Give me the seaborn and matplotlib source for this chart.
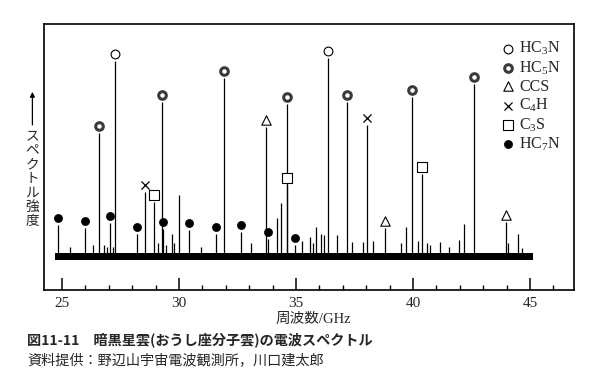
import numpy as np
import pandas as pd
import seaborn as sns
import matplotlib.pyplot as plt
from matplotlib.ticker import MultipleLocator

# --- data (frequency in GHz, relative intensity) ---
hc3n_freq = [27.28, 36.35]
hc3n_int = [196, 199]
hc5n_freq = [26.57, 29.29, 31.91, 34.60, 37.19, 39.94, 42.60]
hc5n_int = [124, 155, 179, 153, 155, 160, 173]
ccs_freq = [33.72, 38.79, 43.97]
ccs_int = [130, 29, 35]
c4h_freq = [28.55, 38.05]
c4h_int = [65, 132]
c3s_freq = [28.92, 34.63, 40.40]
c3s_int = [55, 72, 83]
hc7n_freq = [24.84, 25.97, 27.04, 28.20, 29.32, 30.41, 31.57, 32.65, 33.80, 34.97]
hc7n_int = [32, 29, 34, 23, 28, 27, 23, 25, 18, 12]

# unidentified lines
other_freq = [25.34, 26.34, 26.79, 26.91, 27.17, 29.09, 29.44, 29.69, 29.79, 29.99,
              30.94, 33.08, 34.20, 34.37, 35.26, 35.59, 35.71, 35.87, 36.07, 36.20,
              36.75, 37.38, 37.88, 38.30, 39.49, 39.70, 40.20, 40.59, 40.73, 41.15,
              41.54, 41.98, 42.17, 44.07, 44.47, 44.64]
other_int = [10, 12, 12, 10, 10, 14, 12, 23, 14, 62,
             10, 14, 39, 54, 16, 20, 14, 30, 23, 22,
             22, 15, 15, 16, 14, 30, 16, 14, 12, 15,
             10, 17, 33, 14, 23, 9]

band_start, band_end = 24.72, 45.13

molecules = ["HC$_3$N", "HC$_5$N", "CCS", "C$_4$H", "C$_3$S", "HC$_7$N"]
freqs = [hc3n_freq, hc5n_freq, ccs_freq, c4h_freq, c3s_freq, hc7n_freq]
ints = [hc3n_int, hc5n_int, ccs_int, c4h_int, c3s_int, hc7n_int]

styles = {
    "HC$_3$N": dict(marker="o", s=40, color="white", edgecolor="black", linewidth=0.8),
    "HC$_5$N": dict(marker="o", s=30, color="white", edgecolor="#3a3a3a", linewidth=2.2),
    "CCS": dict(marker="^", s=46, color="white", edgecolor="black", linewidth=0.8),
    "C$_4$H": dict(marker="x", s=34, color="black", linewidth=0.9),
    "C$_3$S": dict(marker="s", s=50, color="white", edgecolor="black", linewidth=0.8),
    "HC$_7$N": dict(marker="o", s=34, color="black", edgecolor="black", linewidth=0.5),
}

sns.set_theme(style="white")
plt.rcParams["font.family"] = ["Liberation Serif", "Noto Sans CJK JP"]
plt.rcParams["mathtext.fontset"] = "custom"
plt.rcParams["mathtext.rm"] = "Liberation Serif"
plt.rcParams["mathtext.it"] = "Liberation Serif"

fig = plt.figure(figsize=(6, 3.75), dpi=100)
ax = fig.add_axes([0.0733, 0.2267, 0.8834, 0.7093])

# noise band of the spectrum
ax.fill_between([band_start, band_end], -3.5, 3.5, color="black", linewidth=0)

# stick lines
all_f = sum(freqs, []) + other_freq
all_i = sum(ints, []) + other_int
ax.vlines(all_f, 0, all_i, color="black", linewidth=0.9)

# markers above identified lines
gap = 7
for name, f, h in zip(molecules, freqs, ints):
    df = pd.DataFrame({"freq": f, "y": np.array(h) + gap})
    sns.scatterplot(data=df, x="freq", y="y", ax=ax, label=name, zorder=3, **styles[name])

ax.set_xlim(24.23, 46.88)
ax.set_ylim(-33, 233)
ax.xaxis.set_major_locator(MultipleLocator(5))
ax.xaxis.set_minor_locator(MultipleLocator(1))
ax.tick_params(axis="x", which="major", direction="in", length=8.5, width=1.1,
               bottom=True, labelsize=11, pad=5, color="black")
ax.tick_params(axis="x", which="minor", direction="in", length=3.6, width=1.0,
               bottom=True, color="black")
ax.set_yticks([])
for sp in ax.spines.values():
    sp.set_color("black")
    sp.set_linewidth(1.2)

ax.set_xlabel("周波数/GHz", fontsize=10.5)
ax.xaxis.set_label_coords(0.508, -0.085)
ax.set_ylabel("")

leg = ax.legend(loc="upper left", bbox_to_anchor=(0.845, 0.965), frameon=False,
                fontsize=11.5, labelspacing=0.13, handletextpad=0.1,
                borderaxespad=0, handlelength=1.2)

# vertical y label with arrow
fig.text(0.054, 0.655, "\n".join("スペクトル強度"), fontsize=9.8, ha="center", va="top",
         linespacing=1.0, family=["Noto Sans CJK JP"])
ax.annotate("", xy=(0.054, 0.755), xycoords="figure fraction",
            xytext=(0.054, 0.667), textcoords="figure fraction",
            arrowprops=dict(arrowstyle="-|>", color="black", lw=0.9,
                            mutation_scale=7, shrinkA=0, shrinkB=0))

# caption
fig.text(0.045, 1 - 340 / 375, "図11-11　暗黒星雲(おうし座分子雲)の電波スペクトル",
         fontsize=10.2, fontweight="bold", va="center", ha="left",
         family=["Noto Sans CJK JP"])
fig.text(0.045, 1 - 360 / 375, "資料提供：野辺山宇宙電波観測所，川口建太郎",
         fontsize=10.2, va="center", ha="left", family=["Noto Sans CJK JP"])

fig.savefig("out.png", dpi=100)
